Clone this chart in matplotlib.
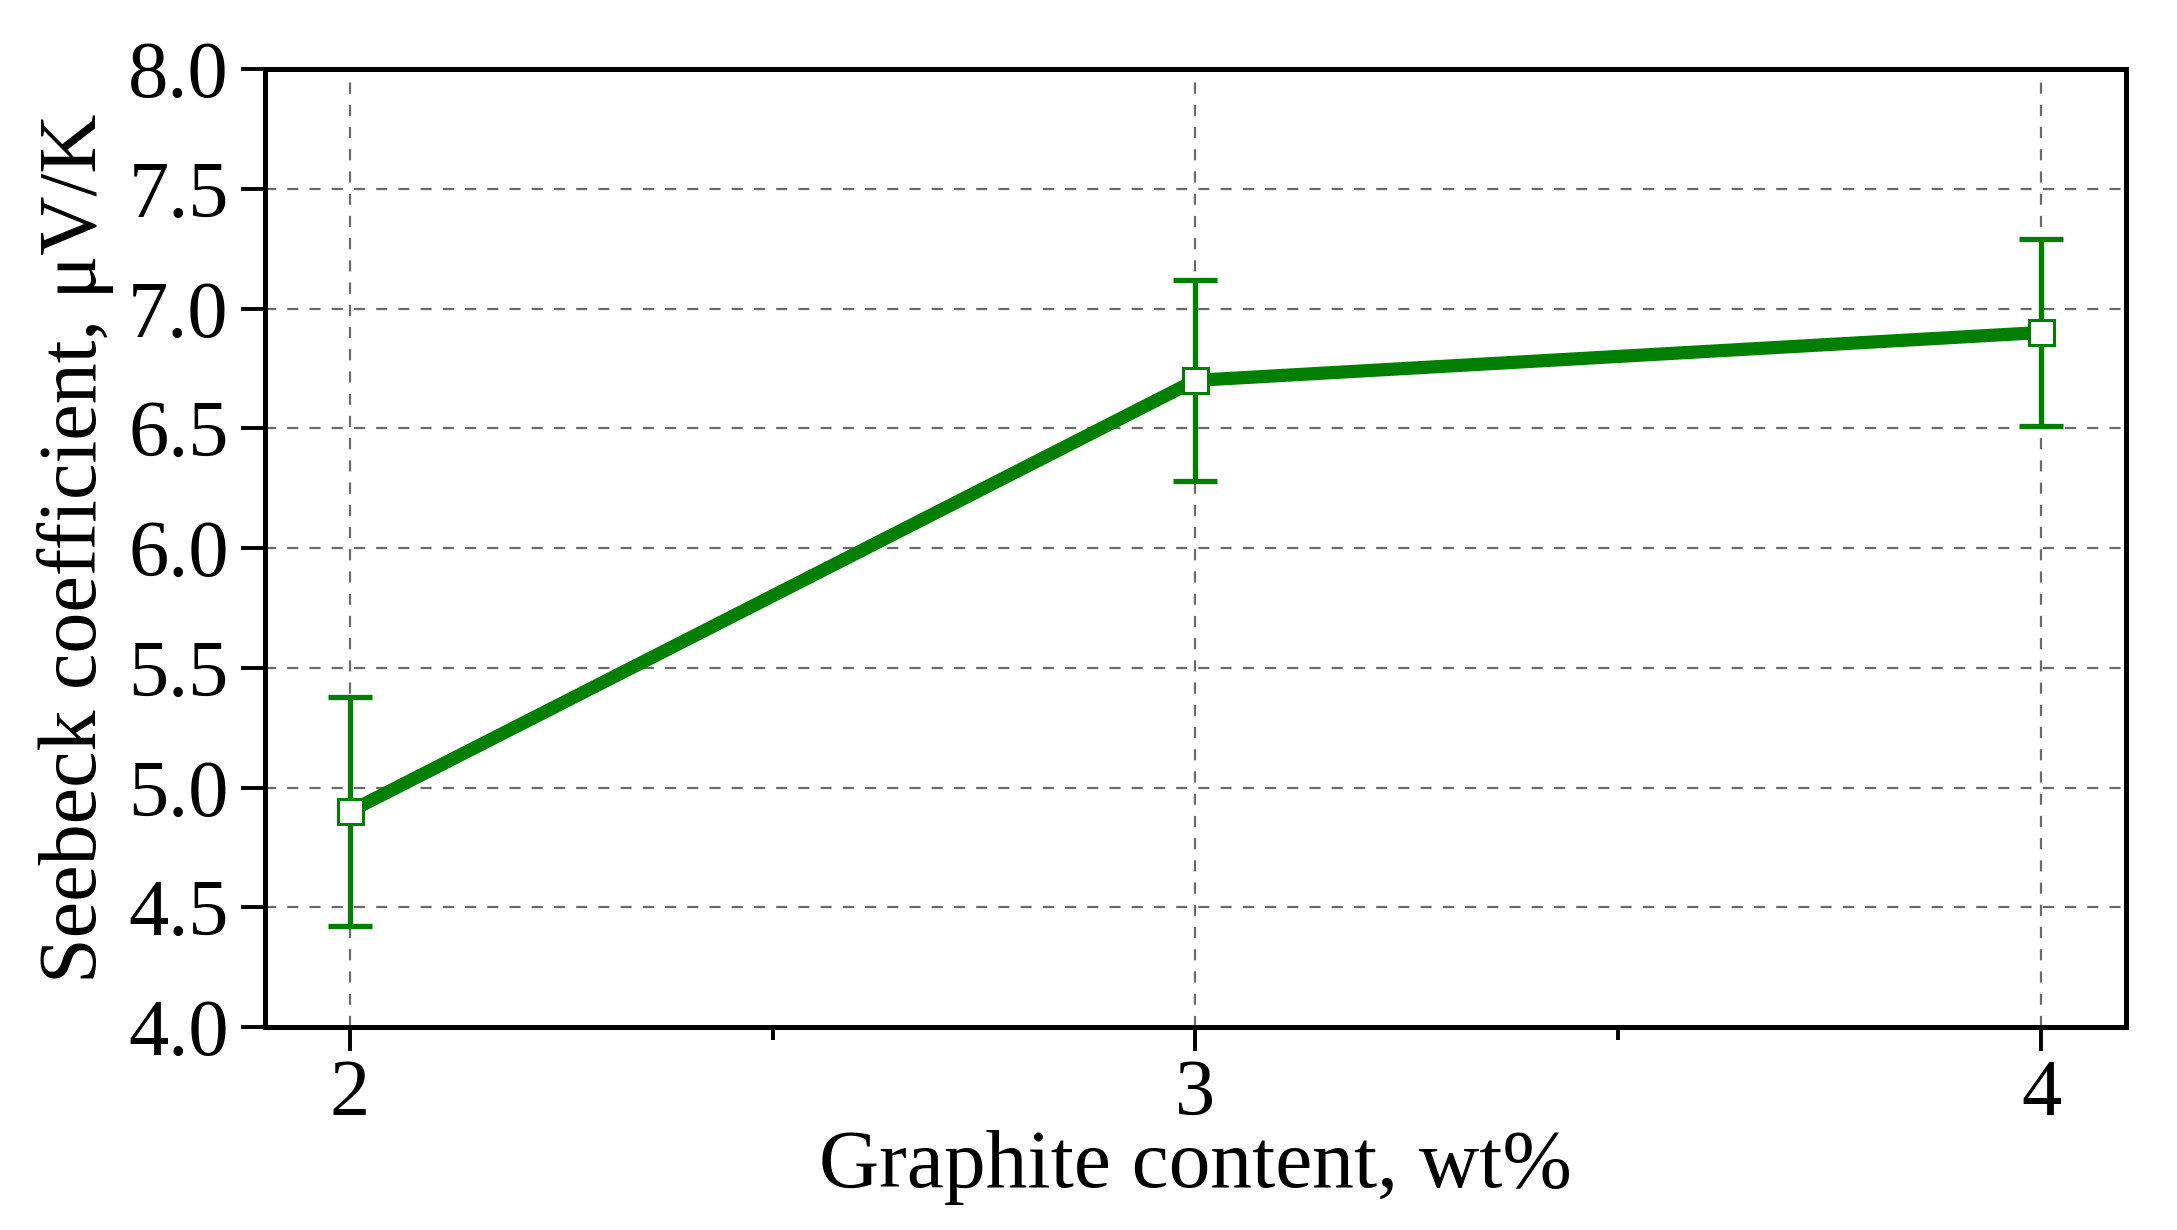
import matplotlib
matplotlib.use("Agg")
import matplotlib.pyplot as plt
from matplotlib.ticker import MultipleLocator

graphite = [2, 3, 4]
seebeck = [4.9, 6.7, 6.9]
seebeck_err = [0.48, 0.42, 0.39]

green = "#007F00"
plt.rcParams['font.family'] = ['Liberation Serif', 'DejaVu Serif']

fig = plt.figure(figsize=(21.77, 12.30), dpi=100)
ax = fig.add_axes([0.1217, 0.1650, 0.9766 - 0.1217, 0.9439 - 0.1650])

ax.plot(graphite, seebeck, color=green, lw=9.5, zorder=3, solid_capstyle='butt')
ax.errorbar(graphite, seebeck, yerr=seebeck_err, fmt='none', ecolor=green,
            elinewidth=3.8, capsize=16, capthick=3.8, zorder=4)
ax.plot(graphite, seebeck, linestyle='none', marker='s', markersize=18,
        markerfacecolor='white', markeredgecolor=green, markeredgewidth=2.2, zorder=5)

ax.set_xlim(1.9, 4.1)
ax.set_ylim(4.0, 8.0)
ax.xaxis.set_major_locator(MultipleLocator(1))
ax.xaxis.set_minor_locator(MultipleLocator(0.5))
ax.yaxis.set_major_locator(MultipleLocator(0.5))
ax.yaxis.set_major_formatter(matplotlib.ticker.FormatStrFormatter('%.1f'))

ax.grid(True, which='major', color='#6a6a6a', linestyle=(0, (5, 5)), linewidth=1.6)
for s in ax.spines.values():
    s.set_linewidth(3.6)
ax.tick_params(axis='both', which='major', direction='out', length=17, width=2.8,
               labelsize=58, pad=9)
ax.tick_params(axis='x', which='major', pad=6)
ax.tick_params(axis='x', which='minor', direction='out', length=9, width=2.8)
ax.tick_params(axis='y', which='minor', left=False)

ax.set_xlabel("Graphite content, wt%", fontsize=60, labelpad=-2)
ax.set_ylabel("Seebeck coefficient, μV/K", fontsize=59, labelpad=10)

fig.savefig("out.png", dpi=100)
